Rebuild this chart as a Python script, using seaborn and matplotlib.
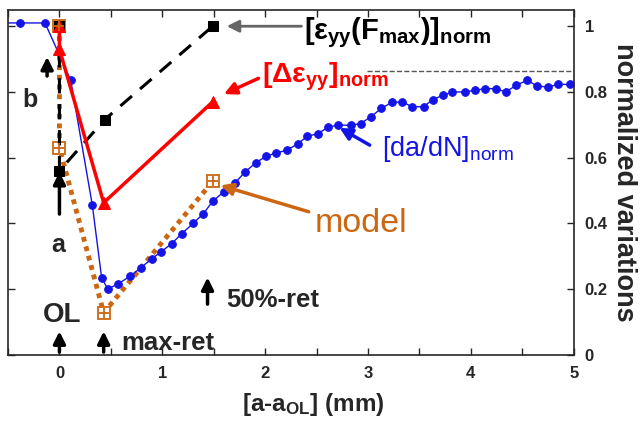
import pandas as pd
import seaborn as sns
import matplotlib.pyplot as plt

# crack growth rate, normalized (blue)
dadn_x = [-0.55, -0.38, -0.14, 0.11, 0.32, 0.41, 0.47, 0.57, 0.69, 0.79, 0.90, 0.99,
          1.09, 1.19, 1.30, 1.40, 1.49, 1.60, 1.71, 1.80, 1.91, 2.01, 2.11, 2.21,
          2.32, 2.41, 2.51, 2.61, 2.71, 2.83, 2.93, 3.03, 3.13, 3.23, 3.33, 3.43,
          3.54, 3.63, 3.73, 3.82, 3.94, 4.04, 4.14, 4.24, 4.34, 4.44, 4.55, 4.64,
          4.75, 4.85, 4.96]
dadn_y = [1.01, 1.01, 1.01, 0.835, 0.455, 0.235, 0.20, 0.216, 0.24, 0.265, 0.293, 0.314,
          0.338, 0.369, 0.40, 0.43, 0.467, 0.497, 0.524, 0.555, 0.585, 0.604, 0.615, 0.622,
          0.643, 0.665, 0.673, 0.692, 0.70, 0.698, 0.704, 0.725, 0.75, 0.768, 0.77, 0.755,
          0.755, 0.777, 0.79, 0.80, 0.80, 0.805, 0.81, 0.81, 0.80, 0.82, 0.836, 0.818,
          0.815, 0.823, 0.823]

# delta strain (red)
deps_x = [0.0, 0.0, 0.43, 1.49]
deps_y = [1.0, 0.93, 0.463, 0.77]

# strain at Fmax (black dashed)
fmax_x = [0.0, 0.0, 0.44, 1.49]
fmax_y = [1.0, 0.56, 0.716, 1.0]

# model (orange dotted)
model_x = [0.0, 0.0, 0.43, 1.49]
model_y = [1.0, 0.63, 0.128, 0.528]

blue = "#1414e6"
red = "#ff0000"
orange = "#cc6611"

sns.set_style("ticks")
plt.rcParams["font.family"] = ["Liberation Sans", "DejaVu Sans"]
plt.rcParams["font.weight"] = "bold"
plt.rcParams["axes.labelweight"] = "bold"
plt.rcParams["mathtext.fontset"] = "custom"
plt.rcParams["mathtext.rm"] = "Liberation Sans:bold"
plt.rcParams["mathtext.it"] = "Liberation Sans:bold"
plt.rcParams["mathtext.bf"] = "Liberation Sans:bold"

fig = plt.figure(figsize=(6.41, 4.26), dpi=100)
ax = fig.add_axes([0.0125, 0.167, 0.8825, 0.81])

df_dadn = pd.DataFrame({"x": dadn_x, "y": dadn_y})
df_deps = pd.DataFrame({"x": deps_x, "y": deps_y})
df_fmax = pd.DataFrame({"x": fmax_x, "y": fmax_y})
df_model = pd.DataFrame({"x": model_x, "y": model_y})

sns.lineplot(data=df_model, x="x", y="y", sort=False, estimator=None, ax=ax,
             color=orange, lw=3.5, linestyle=(0, (1, 1)), marker="s", ms=8,
             mfc="white", mec=orange, mew=1.3)
sns.scatterplot(data=df_model, x="x", y="y", ax=ax, marker="+", s=50,
                color=orange, linewidth=1.3, zorder=3)
sns.lineplot(data=df_fmax, x="x", y="y", sort=False, estimator=None, ax=ax,
             color="black", lw=2.2, linestyle=(0, (5, 3.5)), marker="s", ms=7,
             mec="black")
sns.lineplot(data=df_dadn, x="x", y="y", sort=False, estimator=None, ax=ax,
             color=blue, lw=1, marker="o", ms=5.5, mec=blue)
sns.lineplot(data=df_deps, x="x", y="y", sort=False, estimator=None, ax=ax,
             color=red, lw=2.5, marker="^", ms=9, mec=red)

ax.hlines(0.863, 2.99, 5, colors="#555555", linestyles="--", lw=1)

ax.set_xlim(-0.5, 5)
ax.set_ylim(0, 1.05)
ax.set_xticks([0, 1, 2, 3, 4, 5])
ax.set_xticks([-0.5, 0.5, 1.5, 2.5, 3.5, 4.5], minor=True)
ax.set_yticks([0, 0.2, 0.4, 0.6, 0.8, 1])
ax.set_yticklabels(["0", "0.2", "0.4", "0.6", "0.8", "1"])
ax.tick_params(which="both", direction="in", top=True, right=True, left=True,
               labelleft=False, labelright=True, labelsize=12, length=5, width=1,
               pad=8)
for s in ax.spines.values():
    s.set_linewidth(1.2)

ax.set_xlabel(r"[a-a$_{OL}$] (mm)", fontsize=17.5)
ax.xaxis.set_label_coords(0.54, -0.105)
ax.yaxis.set_label_position("right")
ax.set_ylabel("normalized variations", fontsize=19.5, rotation=270, labelpad=21)

# curve labels with arrows
ax.annotate("", xy=(1.6, 1.0), xytext=(2.38, 1.0),
            arrowprops=dict(arrowstyle="-|>", color="#666666", lw=2, mutation_scale=18))
ax.text(2.38, 0.96, r"$[ε_{yy}(F_{max})]_{norm}$", fontsize=21, color="black")
ax.annotate("", xy=(1.575, 0.79), xytext=(1.96, 0.845),
            arrowprops=dict(arrowstyle="-|>", color=red, lw=2.5, mutation_scale=18))
ax.text(1.965, 0.83, r"$[Δε_{yy}]_{norm}$", fontsize=20.5, color=red)
ax.annotate("", xy=(2.70, 0.695), xytext=(3.04, 0.634),
            arrowprops=dict(arrowstyle="-|>", color=blue, lw=2.5, mutation_scale=18))
ax.text(3.14, 0.604, r"$\mathregular{[da/dN]_{norm}}$", fontsize=19.5, color=blue,
        fontweight="normal")
ax.annotate("", xy=(1.54, 0.518), xytext=(2.45, 0.433),
            arrowprops=dict(arrowstyle="-|>", color=orange, lw=2.5, mutation_scale=18))
ax.text(2.48, 0.375, "model", fontsize=24.5, color=orange, fontweight="normal")

# event markers
for (x0, y0, y1) in [(0.0, 0.0, 0.08), (0.43, 0.0, 0.08), (1.44, 0.146, 0.244),
                     (0.0, 0.42, 0.565), (-0.12, 0.84, 0.915)]:
    ax.annotate("", xy=(x0, y1), xytext=(x0, y0),
                arrowprops=dict(arrowstyle="-|>", color="black", lw=2.5, mutation_scale=18))
ax.text(-0.36, 0.753, "b", fontsize=18)
ax.text(-0.08, 0.314, "a", fontsize=18)
ax.text(-0.16, 0.10, "OL", fontsize=20)
ax.text(0.60, 0.015, "max-ret", fontsize=18.5)
ax.text(1.62, 0.146, "50%-ret", fontsize=18.5)

fig.savefig("out.png", dpi=100)
